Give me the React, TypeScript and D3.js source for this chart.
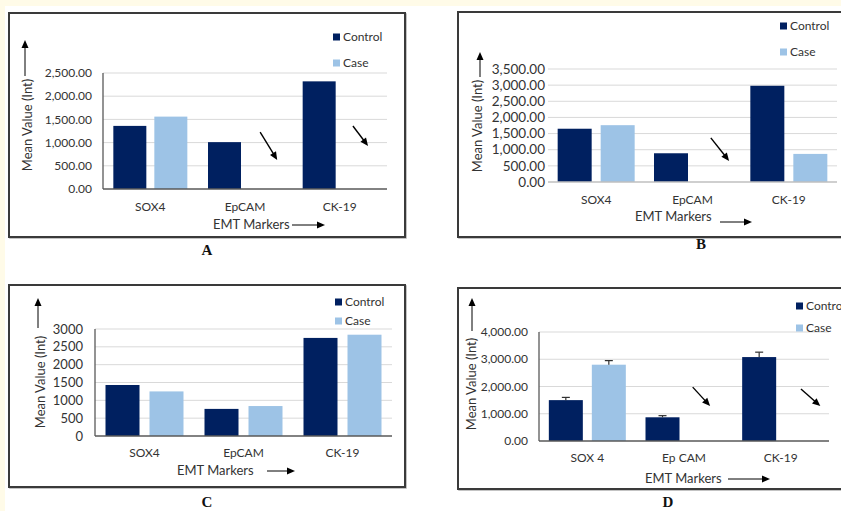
import React from "react";
import * as d3 from "d3";

// values (Control / Case mean intensity)
const categories = ["SOX4", "EpCAM", "CK-19"];
const categoriesD = ["SOX 4", "Ep CAM", "CK-19"];

const controlA = [1360, 1010, 2320];
const caseA = [1560, null, null];
const ticksA = [0, 500, 1000, 1500, 2000, 2500];

const controlB = [1650, 890, 2980];
const caseB = [1760, null, 870];
const ticksB = [0, 500, 1000, 1500, 2000, 2500, 3000, 3500];

const controlC = [1430, 760, 2750];
const caseC = [1250, 840, 2840];
const ticksC = [0, 500, 1000, 1500, 2000, 2500, 3000];

const controlD = [1500, 870, 3080];
const caseD = [2800, null, null];
const errControlD = [100, 60, 180];
const errCaseD = [150, null, null];
const ticksD = [0, 1000, 2000, 3000, 4000];

const NAVY = "#002060";
const LIGHT = "#9DC3E6";
const TEXT = "#333";
const FONT = "Lato, 'Open Sans', sans-serif";

const panels = [
  {
    letter: "A", cats: categories, control: controlA, caseV: caseA, ticks: ticksA, fmt: d3.format(",.2f"),
    frame: [9, 13, 405, 237], x0: 103, x1: 387, yb: 189, yt: 73, barW: 33, gap: 8, yAxis: true,
    tickX: 92, tickSize: 12, catY: 211, titleX: 213, titleY: 229, tArrow: [292, 325, 225],
    yTitle: [27, 125], yArrow: [25, 76, 40], legend: [333, 37, 63], letterPos: [207, 255],
    notes: [{ i: 1, f0: 0.66, f1: 0.84, v0: 1228, v1: 625 }, { i: 2, f0: 0.64, f1: 0.8, v0: 1358, v1: 927 }],
  },
  {
    letter: "B", cats: categories, control: controlB, caseV: caseB, ticks: ticksB, fmt: d3.format(",.2f"),
    frame: [458, 12, 850, 237], x0: 548, x1: 837, yb: 182, yt: 69, barW: 34, gap: 9, yAxis: false,
    tickX: 545, tickSize: 13.5, catY: 204, titleX: 635, titleY: 221, tArrow: [720, 752, 222],
    yTitle: [477, 126], yArrow: [480, 77, 52], legend: [780, 26, 52], letterPos: [701, 249],
    notes: [{ i: 1, f0: 0.69, f1: 0.88, v0: 1366, v1: 652 }],
  },
  {
    letter: "C", cats: categories, control: controlC, caseV: caseC, ticks: ticksC, fmt: d3.format("d"),
    frame: [9, 285, 405, 487], x0: 95, x1: 392, yb: 436, yt: 329, barW: 34, gap: 10, yAxis: true,
    tickX: 83, tickSize: 13, catY: 457, titleX: 177, titleY: 475, tArrow: [267, 295, 471],
    yTitle: [40, 382], yArrow: [38, 328, 298], legend: [335, 302, 321], letterPos: [207, 507],
    notes: [],
  },
  {
    letter: "D", cats: categoriesD, control: controlD, caseV: caseD, ticks: ticksD, fmt: d3.format(",.2f"),
    frame: [458, 288, 850, 489], x0: 539, x1: 829, yb: 441, yt: 332, barW: 34, gap: 9, yAxis: true,
    tickX: 528, tickSize: 12, catY: 462, titleX: 645, titleY: 483, tArrow: [728, 770, 479],
    yTitle: [471, 384], yArrow: [472, 331, 298], legend: [796, 306, 328], letterPos: [668, 507],
    errControl: errControlD, errCase: errCaseD,
    notes: [{ i: 1, f0: 0.59, f1: 0.77, v0: 1978, v1: 1282 }, { i: 2, f0: 0.71, f1: 0.91, v0: 1905, v1: 1282 }],
  },
];

function Panel({ p }) {
  const x = d3.scaleBand().domain(p.cats).range([p.x0, p.x1]);
  const y = d3.scaleLinear().domain([0, d3.max(p.ticks)]).range([p.yb, p.yt]);
  const bw = x.bandwidth();
  const groupW = 2 * p.barW + p.gap;
  const barX = (i, s) => x(p.cats[i]) + (bw - groupW) / 2 + s * (p.barW + p.gap);
  const [fx0, fy0, fx1, fy1] = p.frame;
  const series = [
    { vals: p.control, color: NAVY, err: p.errControl, s: 0 },
    { vals: p.caseV, color: LIGHT, err: p.errCase, s: 1 },
  ];
  return (
    <g fontFamily={FONT} fill={TEXT}>
      <rect x={fx0 + 1} y={fy0 + 1} width={fx1 - fx0} height={fy1 - fy0} fill="none" stroke="#b0b0b0" strokeWidth={1.5} />
      <rect x={fx0} y={fy0} width={fx1 - fx0} height={fy1 - fy0} fill="#fff" stroke="#3a3a3a" strokeWidth={2} />
      {p.ticks.map((t) => (
        <g key={t}>
          {t > 0 && <line x1={p.x0} x2={p.x1} y1={y(t)} y2={y(t)} stroke="#d9d9d9" strokeWidth={1} />}
          <text x={p.tickX} y={y(t)} dy="0.35em" textAnchor="end" fontSize={p.tickSize}>{p.fmt(t)}</text>
        </g>
      ))}
      {series.map((sr) =>
        sr.vals.map((v, i) =>
          v == null ? null : (
            <rect key={sr.s + "-" + i} x={barX(i, sr.s)} y={y(v)} width={p.barW} height={p.yb - y(v)} fill={sr.color} />
          )
        )
      )}
      {series.map((sr) =>
        sr.err
          ? sr.vals.map((v, i) => {
              if (v == null || sr.err[i] == null) return null;
              const cx = barX(i, sr.s) + p.barW / 2;
              const top = y(v + sr.err[i]);
              return (
                <g key={"e" + sr.s + i} stroke="#303030" strokeWidth={1.2}>
                  <line x1={cx} x2={cx} y1={y(v)} y2={top} />
                  <line x1={cx - 4} x2={cx + 4} y1={top} y2={top} />
                </g>
              );
            })
          : null
      )}
      <line x1={p.x0} x2={p.x1} y1={p.yb} y2={p.yb} stroke={p.yAxis ? "#595959" : "#bfbfbf"} strokeWidth={1.3} />
      {p.yAxis && <line x1={p.x0} x2={p.x0} y1={p.yb} y2={p.yt} stroke="#595959" strokeWidth={1.3} />}
      {p.cats.map((c) => (
        <text key={c} x={x(c) + bw / 2} y={p.catY} textAnchor="middle" fontSize={12}>{c}</text>
      ))}
      <text x={p.titleX} y={p.titleY} fontSize={13}>EMT Markers</text>
      <line x1={p.tArrow[0]} x2={p.tArrow[1] - 6} y1={p.tArrow[2]} y2={p.tArrow[2]} stroke="#000" strokeWidth={1} />
      <path d={`M${p.tArrow[1]},${p.tArrow[2]} l-8,-3.5 v7 z`} fill="#000" />
      <text transform={`translate(${p.yTitle[0]},${p.yTitle[1]}) rotate(-90)`} dy="0.35em" textAnchor="middle" fontSize={13}>
        Mean Value (Int)
      </text>
      <line x1={p.yArrow[0]} x2={p.yArrow[0]} y1={p.yArrow[1]} y2={p.yArrow[2] + 6} stroke="#000" strokeWidth={1} />
      <path d={`M${p.yArrow[0]},${p.yArrow[2]} l-3.5,8 h7 z`} fill="#000" />
      {["Control", "Case"].map((name, k) => (
        <g key={name}>
          <rect x={p.legend[0]} y={p.legend[1 + k] - 3.5} width={7} height={7} fill={k === 0 ? NAVY : LIGHT} />
          <text x={p.legend[0] + 10} y={p.legend[1 + k]} dy="0.35em" fontSize={12}>{name}</text>
        </g>
      ))}
      {p.notes.map((n, k) => {
        const bx = x(p.cats[n.i]);
        const ax0 = bx + n.f0 * bw, ax1 = bx + n.f1 * bw;
        const ay0 = y(n.v0), ay1 = y(n.v1);
        const ang = Math.atan2(ay1 - ay0, ax1 - ax0) * 180 / Math.PI;
        return (
          <g key={"n" + k}>
            <line x1={ax0} y1={ay0} x2={ax1 - 5 * Math.cos(ang * Math.PI / 180)} y2={ay1 - 5 * Math.sin(ang * Math.PI / 180)} stroke="#000" strokeWidth={1.4} />
            <path d="M0,0 l-8,-3.5 v7 z" fill="#000" transform={`translate(${ax1},${ay1}) rotate(${ang})`} />
          </g>
        );
      })}
      <text x={p.letterPos[0]} y={p.letterPos[1]} textAnchor="middle" fontFamily="'Liberation Serif', serif" fontWeight="bold" fontSize={15} fill="#111">
        {p.letter}
      </text>
    </g>
  );
}

export default function App() {
  return (
    <svg width={841} height={511} style={{ position: "absolute", left: 0, top: 0 }}>
      <rect x={0} y={0} width={841} height={511} fill="#fff" />
      <rect x={0} y={0} width={841} height={6} fill="#fffbe8" />
      <rect x={0} y={0} width={5} height={511} fill="#fffbe8" />
      {panels.map((p) => (
        <Panel key={p.letter} p={p} />
      ))}
    </svg>
  );
}
